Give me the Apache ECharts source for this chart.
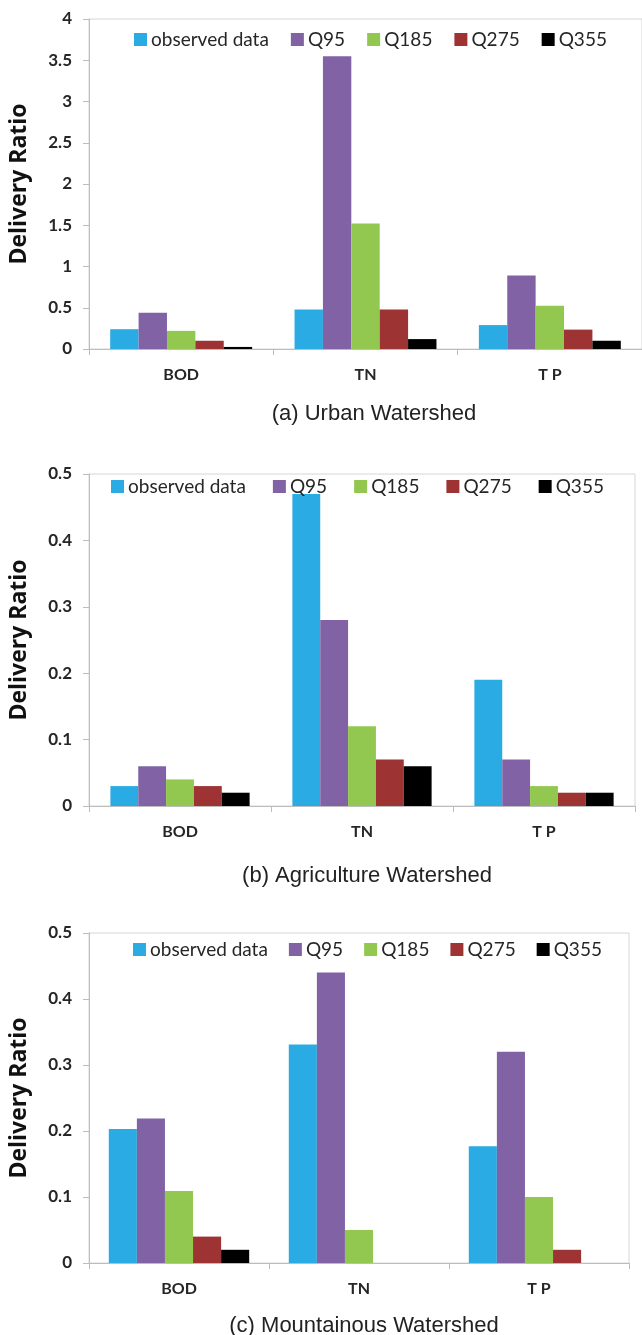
<!DOCTYPE html>
<html>
<head>
<meta charset="utf-8">
<script src="https://cdn.jsdelivr.net/npm/echarts@6/dist/echarts.min.js"></script>
<style>
  html, body { margin: 0; padding: 0; background: #ffffff; }
  #chart { width: 642px; height: 1335px; }
</style>
</head>
<body>
<div id="chart"></div>
<script>
// ---- data ----
var categories = ['BOD', 'TN', 'T P'];
var seriesNames = ['observed data', 'Q95', 'Q185', 'Q275', 'Q355'];

var urbanObserved = [0.24, 0.48, 0.29];
var urbanQ95      = [0.44, 3.55, 0.89];
var urbanQ185     = [0.22, 1.52, 0.525];
var urbanQ275     = [0.10, 0.48, 0.235];
var urbanQ355     = [0.025, 0.12, 0.10];

var agriObserved = [0.03, 0.47, 0.19];
var agriQ95      = [0.06, 0.28, 0.07];
var agriQ185     = [0.04, 0.12, 0.03];
var agriQ275     = [0.03, 0.07, 0.02];
var agriQ355     = [0.02, 0.06, 0.02];

var mountObserved = [0.203, 0.331, 0.177];
var mountQ95      = [0.219, 0.44, 0.32];
var mountQ185     = [0.109, 0.05, 0.10];
var mountQ275     = [0.04, 0, 0.02];
var mountQ355     = [0.02, 0, 0];

var panelTitles = ['(a) Urban Watershed', '(b) Agriculture Watershed', '(c) Mountainous Watershed'];
var yAxisTitle = 'Delivery Ratio';
var urbanMax = 4, urbanInterval = 0.5;
var smallMax = 0.5, smallInterval = 0.1;

// ---- styling / layout ----
var colors = ['#2AABE3', '#8163A5', '#92C850', '#9E3334', '#000000'];
var panels = [
  { data: [urbanObserved, urbanQ95, urbanQ185, urbanQ275, urbanQ355], max: urbanMax, interval: urbanInterval,
    left: 89, top: 19, width: 560, height: 330, legendLeft: 129, legendTop: 25, legendGap: 22, gap: '23%', titleTop: 398, titleX: 369 },
  { data: [agriObserved, agriQ95, agriQ185, agriQ275, agriQ355], max: smallMax, interval: smallInterval,
    left: 89, top: 474, width: 546, height: 332, legendLeft: 106, legendTop: 472, legendGap: 27, gap: '23.5%', titleTop: 860, titleX: 362 },
  { data: [mountObserved, mountQ95, mountQ185, mountQ275, mountQ355], max: smallMax, interval: smallInterval,
    left: 89, top: 933, width: 540, height: 330, legendLeft: 128, legendTop: 935, legendGap: 21, gap: '22%', titleTop: 1310, titleX: 359 }
];

var grids = [], xAxes = [], yAxes = [], series = [], legends = [], titles = [];
panels.forEach(function (p, i) {
  grids.push({ left: p.left, top: p.top, width: p.width, height: p.height, show: true,
    borderColor: '#D6D6D6', borderWidth: 1, backgroundColor: 'transparent', containLabel: false });
  xAxes.push({ type: 'category', gridIndex: i, data: categories,
    axisLine: { lineStyle: { color: '#BDBDBD', width: 1 } },
    axisTick: { show: true, alignWithLabel: false, length: 6, lineStyle: { color: '#BDBDBD' } },
    axisLabel: { fontFamily: 'Lato', fontWeight: 'bold', fontSize: 16, color: '#262626', margin: 18 } });
  yAxes.push({ type: 'value', gridIndex: i, min: 0, max: p.max, interval: p.interval,
    name: yAxisTitle, nameLocation: 'middle', nameGap: 58,
    nameTextStyle: { fontFamily: 'Open Sans', fontWeight: 'bold', fontSize: 23, color: '#111' },
    axisLine: { show: true, lineStyle: { color: '#BDBDBD', width: 1 } },
    axisTick: { show: true, length: 6, lineStyle: { color: '#BDBDBD' } },
    splitLine: { show: false },
    axisLabel: { fontFamily: 'Lato', fontWeight: 'bold', fontSize: 17, color: '#262626', margin: 17 } });
  seriesNames.forEach(function (name, k) {
    series.push({ type: 'bar', name: name, xAxisIndex: i, yAxisIndex: i, data: p.data[k],
      barGap: '0%', barCategoryGap: p.gap, itemStyle: { color: colors[k] }, emphasis: { disabled: true } });
  });
  legends.push({ data: seriesNames, left: p.legendLeft, top: p.legendTop, orient: 'horizontal',
    icon: 'rect', itemWidth: 13, itemHeight: 13, itemGap: p.legendGap,
    textStyle: { fontFamily: 'Lato', fontSize: 19, color: '#262626', padding: [0, 0, 0, -1] } });
  titles.push({ text: panelTitles[i], left: p.titleX, top: p.titleTop, textAlign: 'center',
    textStyle: { fontFamily: 'Liberation Sans', fontWeight: 'normal', fontSize: 22, color: '#222' } });
});

var chart = echarts.init(document.getElementById('chart'), null, { renderer: 'canvas' });
chart.setOption({
  animation: false,
  color: colors,
  title: titles,
  legend: legends,
  grid: grids,
  xAxis: xAxes,
  yAxis: yAxes,
  series: series
});
</script>
</body>
</html>
